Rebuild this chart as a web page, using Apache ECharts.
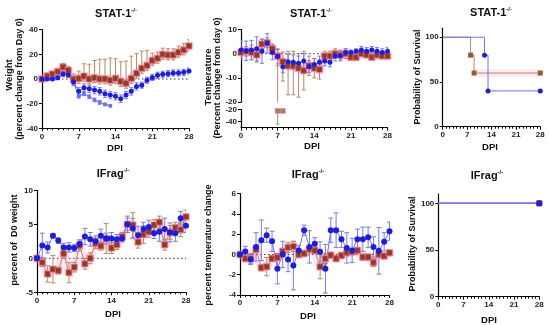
<!DOCTYPE html>
<html><head><meta charset="utf-8">
<script src="https://cdn.jsdelivr.net/npm/echarts@6/dist/echarts.min.js"></script>
<style>html,body{margin:0;padding:0;background:#fff}#c{width:550px;height:325px}</style>
</head><body><div id="c"></div>
<script>
// ---------- DATA ----------
const days = [0,1,2,3,4,5,6,7,8,9,10,11,12,13,14,15,16,17,18,19,20,21,22,23,24,25,26,27,28];
const xTicks = [0,7,14,21,28];

// STAT-1 weight (% change from day 0)
const statWeightBlue = [0,0,0,1,4,3.4,-2.5,-10,-7,-8,-9,-10,-12,-13,-14,-16,-13,-10,-6,-5,-1,1.3,3,3.8,4.3,4.9,4.9,5.4,6.5];
const statWeightBlueErr = [0.5,1,1,1.5,2,2,3,3,3,3,3,3,3,3,3,3,3,3,3,2.5,2.5,2.5,2.5,2.5,2.5,2.5,2.5,2.5,2.5];
const statWeightBlueDead = [0,0,0,1,4,3.4,-2.5,-14,-12,-14.4,-17,-19,-20.6,-21.7];
const statWeightBlueDeadErr = [0.5,1,1,1.5,2,2,2,1.5,1.5,1.5,1.5,1.5,1,1];
const statWeightBrown = [0,2.5,4,6,9.7,7,0,0.5,2.3,0,1,0,0,-1,0.5,-2,-3.5,0.5,4.6,8.7,11,15,16.8,20,19.5,19.5,21.7,23.6,26.8];
const statWeightBrownErrLo = [1,2,2,2,3,3,3,4,4,4,4,4,4,4,4,4,4,4,4,4,4,4,4,4,4,4,4,4,4];
const statWeightBrownErrHi = [1,2,2,2,3,3,4,6,10,12,14,16,16,18,16,16,18,18,16,14,12,6,5,5,5,5,5,5,5];

// STAT-1 temperature (% change from day 0)
const statTempBlue = [1.5,1.2,1.5,2,1,4.3,0.5,-1.2,-5.4,-3.3,-3.5,-4,-3,-5.4,-4.5,-3.5,-3,-3.5,-1,-1,0.5,0.5,1,1.5,1,1.5,1,0.5,1];
const statTempBlueErr = [4,4,4,5,5,4,3,3,2.5,3,3,3,3,2.5,2.5,2.5,2,2,2,2,1.5,1,1,1.5,1.5,1.5,1.5,1.5,1.5];
const statTempBrown = [0.5,1,0.5,-0.5,4,4.5,2,-1,-3.3,-5,-5,-6,-7,-5,-6,-6.5,-1,-1,0,-0.5,0,-1.5,-1.5,0,-0.5,-1.5,-0.5,-1,-1];
const statTempBrownErrLo = [2,2,3,3,2,2,2,4,8,12,12,12,8,4,4,4,2,2,2,2,2,1,1,1,1,1,1,1,1];
const statTempBrownErrHi = [2,2,3,3,2,2,2,3,4,6,6,6,8,4,4,4,2,2,2,2,2,1,1,1,1,1,1,1,1];
const statTempTanDays = [7,8];
const statTempTan = [-22,-22];
const statTempTanErr = [22,0];

// STAT-1 survival
const survStatBlueDays = [0,12,13,28];
const survStatBlue = [100,80,40,40];
const survStatBrownDays = [0,8,9,28];
const survStatBrown = [100,80,60,60];

// IFrag weight (percent of D0 weight)
const ifWeightBlue = [0,1.9,1.6,3.3,2.6,1.6,1.6,1.5,2.1,3.2,2.8,2.5,3.3,2.9,2.9,2.8,2.9,5,4.4,3.4,4.3,4.6,3.7,3.9,4.3,3.8,3.7,5.9,4.8];
const ifWeightBlueErr = [0,1.8,0.8,0.3,0.4,0.6,0.7,0.5,0.6,1.2,1,0.8,1,0.8,0.9,0.7,0.5,1.2,1.5,1.3,1,1,0.8,1.4,1.6,1.4,1.2,1,1];
const ifWeightBrown = [0,-0.6,-2.3,-1.6,-1.8,0.7,-2.1,-1.3,1.9,-0.8,0,2.2,1.8,2.9,1.5,2.0,3.2,5.0,4.9,2.4,3.5,3.9,4.9,5.3,2.0,3.8,4.5,4.2,6.1];
const ifWeightBrownErr = [0,0.6,1.2,2,0.5,0.7,1.5,0.7,0.8,0.8,0.8,0.8,0.6,2.2,0.8,0.7,0.6,0.9,1.8,0.9,1.3,0.8,0.8,0.9,0.8,1,0.8,1,1];

// IFrag temperature (percent temperature change)
const ifTempBlue = [0,0.3,-0.5,0.75,1.4,1.9,1.3,-1.4,0,-0.5,-1.1,0.4,2.4,0.75,1.05,0.26,-1.4,2.4,2.4,1.5,0.65,0.4,1.5,1.5,1.7,0.75,0.36,1.25,2.3];
const ifTempBlueErr = [0,0.5,0.5,1.4,2,0.7,1,1.5,1.3,1.2,2.4,0.5,0.5,1.6,0.6,1,2.4,1.2,1.7,0.8,1.5,1.2,1,1.2,1,1,2.3,0.9,0.9];
const ifTempBrown = [0,-0.4,-0.4,0.5,-1.3,-1.2,-0.4,-0.3,0.3,0.7,0.8,0,0.1,0.5,0.4,-1.2,-0.4,-0.07,-0.4,-0.1,0.16,0.26,0.4,-0.26,-0.26,-0.8,0,-0.15,0.16];
const ifTempBrownErr = [0,0.3,0.5,0.3,0.3,0.9,0.3,0.3,0.3,0.5,0.5,0.3,0.3,0.3,0.3,1.2,0.5,0.3,0.3,0.3,0.3,0.3,0.3,0.3,0.3,0.4,0.3,0.3,0.3];

// IFrag survival
const survIfDays = [0,28];
const survIfBlue = [100,100];
const survIfBrown = [100,100];

// ---------- STYLE ----------
const FONT = '"Liberation Sans", Arial, sans-serif';
const BLUE = '#1e1ed8', BLUE_L = '#7070ea', BLUE_E = '#7a7aee';
const BROWN = '#8a3f1c', TAN = '#b88a5e', PINK = 'rgba(255,120,185,0.2)';
const AX = {color:'#000', width:1.2};
const LBL = {fontSize:8, fontWeight:'bold', color:'#222', fontFamily:FONT};

const grids = [
  {left:42, top:29.7, width:147, height:98.6},      // 0 stat weight
  {left:241, top:29.5, width:146.5, height:72.5},   // 1 stat temp upper
  {left:241, top:109.7, width:146.5, height:18},    // 2 stat temp lower
  {left:442.7, top:28.3, width:97.6, height:98.4},  // 3 stat survival
  {left:37, top:190.3, width:149, height:102},      // 4 ifrag weight
  {left:240, top:193.7, width:149.5, height:101.3}, // 5 ifrag temp
  {left:438.3, top:194, width:101, height:102.7}    // 6 ifrag survival
];

function mkX(gi, show) {
  return {type:'value', gridIndex:gi, min:0, max:28, interval:7, show:show,
    axisLine:{show:true, onZero:false, lineStyle:AX},
    axisTick:{show:true, length:3, lineStyle:{color:'#000'}},
    minorTick:{show:true, splitNumber:7, length:2, lineStyle:{color:'#000'}},
    splitLine:{show:false}, minorSplitLine:{show:false},
    axisLabel:Object.assign({margin:4, customValues:xTicks}, LBL)};
}
function mkY(gi, min, max, interval, custom) {
  const o = {type:'value', gridIndex:gi, min:min, max:max,
    axisLine:{show:true, onZero:false, lineStyle:AX},
    axisTick:{show:true, length:3, lineStyle:{color:'#000'}},
    splitLine:{show:false},
    axisLabel:Object.assign({margin:4}, LBL)};
  if (custom) { o.axisLabel.customValues = custom; o.axisTick.customValues = custom; }
  else o.interval = interval;
  return o;
}
const xAxes = [mkX(0,true), mkX(1,false), mkX(2,true), mkX(3,true), mkX(4,true), mkX(5,true), mkX(6,true)];
const yAxes = [
  mkY(0,-40,40,20), mkY(1,-20,10,10), mkY(2,-50,-20,null,[-40,-20]),
  mkY(3,0,110,null,[0,50,100]), mkY(4,-5,10,5), mkY(5,-4,6,2), mkY(6,0,110,null,[0,50,100])
];

function pts(xs, ys) { const r=[]; ys.forEach((v,i)=>{ if(v!=null) r.push([xs[i], v]); }); return r; }
function line(gi, data, color, lineColor, symbol, size, extra) {
  return Object.assign({type:'line', xAxisIndex:gi, yAxisIndex:gi, data:data, symbol:symbol, symbolSize:size,
    showSymbol:true, lineStyle:{color:lineColor, width:1}, itemStyle:{color:color}, z:4, clip:true, silent:true}, extra||{});
}
function halo(gi, data) {
  return {type:'line', xAxisIndex:gi, yAxisIndex:gi, data:data, symbol:'none', silent:true, z:1, clip:true,
    lineStyle:{color:PINK, width:9, cap:'round', join:'round'}};
}
function brownLine(gi, data) {
  return line(gi, data, BROWN, TAN, 'rect', 6, {itemStyle:{color:BROWN, borderColor:'rgba(255,110,170,0.55)', borderWidth:1.5}});
}
function errBars(gi, xs, ys, lo, hi, color, cap) {
  const data = [];
  ys.forEach((v,i)=>{ if(v==null) return; const l=lo[i], h=hi[i]; if(!(l>0 || h>0)) return; data.push([xs[i], v-l, v+h]); });
  return {type:'custom', xAxisIndex:gi, yAxisIndex:gi, clip:true, silent:true, z:2, data:data,
    encode:{x:0, y:[1,2]},
    renderItem:function(p, api){
      const x = api.value(0);
      const a = api.coord([x, api.value(1)]), b = api.coord([x, api.value(2)]);
      const st = {stroke:color, lineWidth:1};
      return {type:'group', children:[
        {type:'line', shape:{x1:a[0], y1:a[1], x2:b[0], y2:b[1]}, style:st},
        {type:'line', shape:{x1:a[0]-cap, y1:a[1], x2:a[0]+cap, y2:a[1]}, style:st},
        {type:'line', shape:{x1:b[0]-cap, y1:b[1], x2:b[0]+cap, y2:b[1]}, style:st}
      ]};
    }};
}
function zeroLine(gi) {
  return {type:'line', xAxisIndex:gi, yAxisIndex:gi, data:[[0,0],[28,0]], symbol:'none', silent:true, z:0,
    lineStyle:{color:'#333', width:1, type:[1.5,2.5]}};
}
function firstNoSymbol(arr) { return arr.map((d,i)=> i===0 ? {value:d, symbol:'none'} : d); }

const series = [];
// Panel 1: STAT-1 weight
series.push(zeroLine(0));
series.push(halo(0, pts(days, statWeightBrown)));
series.push(errBars(0, days, statWeightBrown, statWeightBrownErrLo, statWeightBrownErrHi, TAN, 2));
series.push(errBars(0, days, statWeightBlue, statWeightBlueErr, statWeightBlueErr, BLUE_E, 2));
series.push(errBars(0, days, statWeightBlueDead, statWeightBlueDeadErr, statWeightBlueDeadErr, BLUE_E, 2));
series.push(line(0, pts(days, statWeightBlueDead), BLUE_L, BLUE_L, 'circle', 4));
series.push(brownLine(0, pts(days, statWeightBrown)));
series.push(line(0, pts(days, statWeightBlue), BLUE, BLUE_L, 'circle', 5));

// Panel 2: STAT-1 temperature (broken axis: grids 1 and 2)
series.push(zeroLine(1));
series.push(halo(1, pts(days, statTempBrown)));
series.push(errBars(1, days, statTempBrown, statTempBrownErrLo, statTempBrownErrHi, TAN, 2));
series.push(errBars(1, days, statTempBlue, statTempBlueErr, statTempBlueErr, BLUE_E, 2));
series.push(errBars(1, statTempTanDays, statTempTan, statTempTanErr, statTempTanErr, TAN, 2));
series.push(errBars(2, statTempTanDays, statTempTan, statTempTanErr, statTempTanErr, '#7fa85a', 2));
series.push(brownLine(1, pts(days, statTempBrown)));
series.push(line(1, pts(days, statTempBlue), BLUE, BLUE_L, 'circle', 5));
series.push(line(2, pts(statTempTanDays, statTempTan), '#a0835e', TAN, 'rect', 5,
  {itemStyle:{color:'#a0835e', borderColor:'rgba(255,110,170,0.5)', borderWidth:1}}));

// Panel 3: STAT-1 survival
series.push({type:'line', xAxisIndex:3, yAxisIndex:3, data:[[9,60],[28,60]], symbol:'none', silent:true, z:1,
  lineStyle:{color:'rgba(255,140,190,0.18)', width:8}});
series.push(line(3, firstNoSymbol(pts(survStatBrownDays, survStatBrown)), '#9a5a30', TAN, 'rect', 5,
  {step:'end'}));
series.push(line(3, firstNoSymbol(pts(survStatBlueDays, survStatBlue)), BLUE, BLUE_L, 'circle', 5,
  {step:'end'}));

// Panel 4: IFrag weight
series.push(zeroLine(4));
series.push(halo(4, pts(days, ifWeightBrown)));
series.push(errBars(4, days, ifWeightBlue, ifWeightBlueErr, ifWeightBlueErr, BLUE_E, 2.5));
series.push(errBars(4, days, ifWeightBrown, ifWeightBrownErr, ifWeightBrownErr, TAN, 2.5));
series.push(brownLine(4, pts(days, ifWeightBrown)));
series.push(line(4, pts(days, ifWeightBlue), BLUE, BLUE_L, 'circle', 6));

// Panel 5: IFrag temperature
series.push(zeroLine(5));
series.push(halo(5, pts(days, ifTempBrown)));
series.push(errBars(5, days, ifTempBlue, ifTempBlueErr, ifTempBlueErr, BLUE_E, 2.5));
series.push(errBars(5, days, ifTempBrown, ifTempBrownErr, ifTempBrownErr, TAN, 2.5));
series.push(brownLine(5, pts(days, ifTempBrown)));
series.push(line(5, pts(days, ifTempBlue), BLUE, BLUE_L, 'circle', 6));

// Panel 6: IFrag survival
series.push(line(6, firstNoSymbol(pts(survIfDays, survIfBrown)), BROWN, '#9a70d2', 'rect', 6,
  {step:'end', lineStyle:{color:'#9a70d2', width:1.5}}));
series.push(line(6, firstNoSymbol(pts(survIfDays, survIfBlue)), BLUE, '#8a6ce0', 'circle', 6,
  {step:'end', lineStyle:{color:'#8a6ce0', width:1.5}}));

// ---------- TEXT ----------
function title(x, y, main) {
  return {type:'text', x:x, y:y, silent:true, style:{
    text:'{a|' + main + '}{b|-/-}', align:'center', verticalAlign:'middle',
    rich:{a:{fontSize:11, fontWeight:'bold', fontFamily:FONT, fill:'#111', lineHeight:14},
          b:{fontSize:6, fontWeight:'bold', fontFamily:FONT, fill:'#111', verticalAlign:'top', lineHeight:14}}}};
}
function vtext(x, y, txt, size) {
  return {type:'text', x:x, y:y, rotation:Math.PI/2, silent:true, style:{
    text:txt, align:'center', verticalAlign:'middle', fontSize:size||9, fontWeight:'bold', fontFamily:FONT, fill:'#111'}};
}
function htext(x, y, txt) {
  return {type:'text', x:x, y:y, silent:true, style:{
    text:txt, align:'center', verticalAlign:'middle', fontSize:9.5, fontWeight:'bold', fontFamily:FONT, fill:'#111'}};
}
const graphic = [
  title(116, 14, 'STAT-1'), title(311, 14, 'STAT-1'), title(491, 13, 'STAT-1'),
  title(113, 174, 'IFrag'), title(308, 175, 'IFrag'), title(487, 176, 'IFrag'),
  vtext(9, 75, 'Weight', 9.5), vtext(20, 79, '(percent change from Day 0)', 9),
  vtext(208, 77, 'Temperature', 9.5), vtext(218, 78, '(Percent change from day 0)', 9),
  vtext(418, 77, 'Probability of Survival', 9),
  vtext(15, 240, 'percent of  D0 weight', 9),
  vtext(209, 245, 'percent temperature change', 9),
  vtext(413, 244, 'Probability of Survival', 9),
  htext(115, 148, 'DPI'), htext(312, 146, 'DPI'), htext(490, 147, 'DPI'),
  htext(113, 314, 'DPI'), htext(308, 316, 'DPI'), htext(489, 320, 'DPI')
];

const chart = echarts.init(document.getElementById('c'), null, {renderer:'canvas'});
chart.setOption({animation:false, backgroundColor:'#fff', grid:grids, xAxis:xAxes, yAxis:yAxes, series:series, graphic:graphic});
</script>
</body></html>
